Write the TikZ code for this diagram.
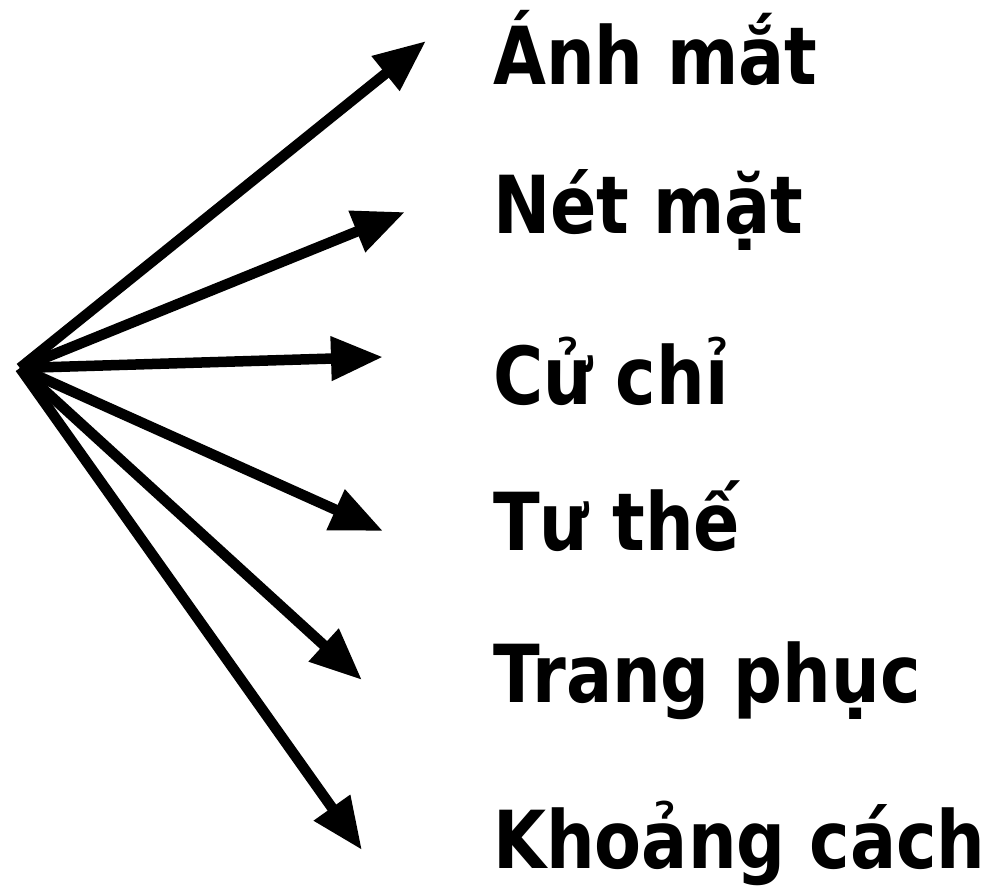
\documentclass[tikz,border=0pt]{standalone}
\usepackage{fontspec}
\newfontfamily\labelfont[FakeStretch=0.855]{DejaVu Sans Bold}
\usepackage{tikz}
\usetikzlibrary{arrows.meta}

\begin{document}
\begin{tikzpicture}[x=1pt,y=-1pt,
  ray/.style={line width=10.5pt,-{Triangle[length=52pt,width=42pt]}},
  item/.style={anchor=base west,inner sep=0pt,font=\fontsize{80}{90}\labelfont}]
  \useasboundingbox (0,0) rectangle (992,889);
  \coordinate (o) at (20,368);
  \node[item] (anh) at (493,84) {Ánh mắt};
  \node[item] (net) at (493,233) {Nét mặt};
  \node[item] (cu) at (493,404) {Cử chỉ};
  \node[item] (tu) at (493,550) {Tư thế};
  \node[item] (trang) at (493,702) {Trang phục};
  \node[item] (khoang) at (493,868) {Khoảng cách};
  \coordinate (t1) at (426,41);
  \coordinate (t2) at (405,212);
  \coordinate (t3) at (383,357);
  \coordinate (t4) at (383,531);
  \coordinate (t5) at (362,680);
  \coordinate (t6) at (362,850);
  \foreach \t in {t1,t2,t3,t4,t5,t6}
    \draw[ray] (o) -- (\t);
\end{tikzpicture}
\end{document}
